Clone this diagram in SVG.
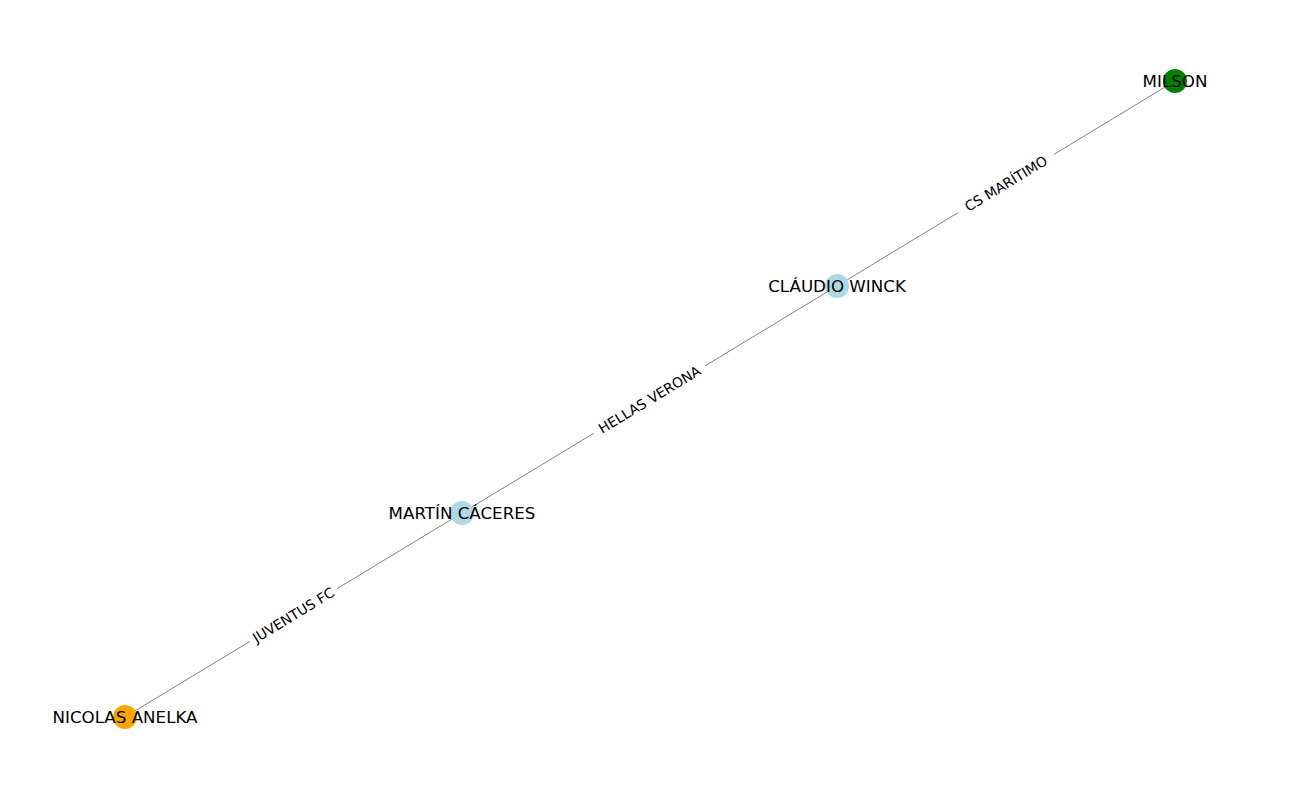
<svg xmlns="http://www.w3.org/2000/svg" width="1300" height="800" viewBox="0 0 1300 800">
<style>
.edge{stroke:#808080;stroke-width:1;fill:none}
.nl{font-family:"DejaVu Sans",sans-serif;font-size:16.7px;fill:#000;text-anchor:middle;dominant-baseline:central}
.el{font-family:"DejaVu Sans",sans-serif;font-size:13.9px;fill:#000;text-anchor:middle;dominant-baseline:central}
.bg{fill:#fff}
</style>
<rect width="1300" height="800" fill="#fff"/>
<g id="connectors">
<line class="edge" x1="125" y1="717" x2="462" y2="513"/>
<line class="edge" x1="462" y1="513" x2="837" y2="286"/>
<line class="edge" x1="837" y1="286" x2="1175" y2="81"/>
<g transform="translate(293.5,615) rotate(-31.2)"><rect class="bg" x="-51" y="-10" width="102" height="20"/><text class="el">JUVENTUS FC</text></g>
<g transform="translate(649.5,399.5) rotate(-31.2)"><rect class="bg" x="-65" y="-10" width="130" height="20"/><text class="el">HELLAS VERONA</text></g>
<g transform="translate(1006,183.5) rotate(-31.2)"><rect class="bg" x="-56" y="-10" width="112" height="20"/><text class="el">CS MARÍTIMO</text></g>
</g>
<g id="node-milson"><circle cx="1175" cy="81" r="12" fill="#008000"/><text class="nl" x="1175" y="81">MILSON</text></g>
<g id="node-claudio"><circle cx="837" cy="286" r="12" fill="#add8e6"/><text class="nl" x="837" y="286">CLÁUDIO WINCK</text></g>
<g id="node-martin"><circle cx="462" cy="513" r="12" fill="#add8e6"/><text class="nl" x="462" y="513">MARTÍN CÁCERES</text></g>
<g id="node-nicolas"><circle cx="125" cy="717" r="12" fill="#ffa500"/><text class="nl" x="125" y="717">NICOLAS ANELKA</text></g>
</svg>
